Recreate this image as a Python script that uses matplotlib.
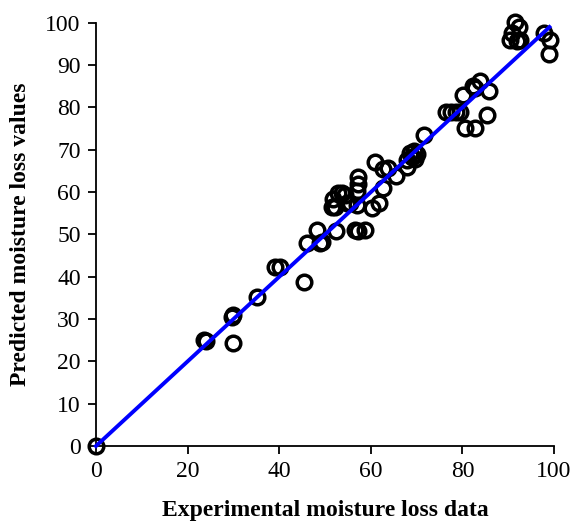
import matplotlib
matplotlib.use("Agg")
import matplotlib.pyplot as plt

# experimental vs predicted moisture loss
experimental = [0, 23.6, 24.1, 29.6, 30.0, 30.0, 35.1, 39.1, 40.2, 45.3,
                46.0, 48.2, 48.9, 49.3, 51.5, 51.8, 52.2, 52.5, 52.9, 53.6,
                54.4, 54.7, 55.5, 56.6, 56.9, 56.9, 57.3, 57.3, 57.2, 58.7,
                60.2, 60.9, 61.7, 62.7, 62.7, 63.8, 65.6, 67.8, 68.0, 68.6,
                69.0, 69.5, 69.6, 70.0, 71.5, 76.5, 77.5, 78.5, 79.5, 80.2,
                80.6, 82.4, 82.8, 82.8, 83.8, 85.4, 85.7, 90.4, 90.8, 91.5,
                91.9, 92.4, 92.6, 97.7, 99.1, 98.8]
predicted = [0, 25.0, 24.8, 30.6, 31.0, 24.3, 35.3, 42.4, 42.4, 38.8,
             47.9, 51.1, 47.9, 48.3, 56.6, 58.4, 56.6, 50.7, 59.7, 59.7,
             59.3, 57.4, 57.4, 51.1, 60.3, 57.0, 63.5, 62.0, 50.9, 51.1,
             56.2, 67.2, 57.4, 65.4, 61.0, 65.6, 63.8, 66.0, 67.5, 69.2,
             68.4, 69.8, 67.8, 69.0, 73.5, 79.0, 79.0, 79.0, 79.0, 83.0,
             75.1, 85.0, 84.5, 75.1, 86.3, 78.2, 84.0, 96.0, 97.6, 100.3,
             95.6, 99.1, 96.0, 97.6, 96.0, 92.6]

fit_x = [0, 99]
fit_y = [0, 99]

xticks = [0, 20, 40, 60, 80, 100]
yticks = [0, 10, 20, 30, 40, 50, 60, 70, 80, 90, 100]

plt.rcParams['font.family'] = ['Liberation Serif', 'DejaVu Serif']

fig = plt.figure(figsize=(5.73, 5.31), dpi=100)
ax = fig.add_axes([0.1675, 0.160, 0.7995, 0.797])

ax.plot(experimental, predicted, 'o', markerfacecolor='none', markeredgecolor='black',
        markersize=10.5, markeredgewidth=2.5, clip_on=False, zorder=2)
ax.plot(fit_x, fit_y, color='#0000ff', linewidth=2.8, zorder=3, clip_on=False)

ax.set_xlim(0, 100)
ax.set_ylim(0, 100)
ax.set_xticks(xticks)
ax.set_yticks(yticks)
ax.tick_params(direction='out', length=6, width=1.3, labelsize=17, pad=5)

for side in ['top', 'right']:
    ax.spines[side].set_visible(False)
for side in ['left', 'bottom']:
    ax.spines[side].set_linewidth(1.3)

ax.set_xlabel('Experimental moisture loss data', fontsize=17, fontweight='bold', labelpad=13)
ax.set_ylabel('Predicted moisture loss values', fontsize=17, fontweight='bold', labelpad=10)

plt.savefig('out.png', dpi=100)
